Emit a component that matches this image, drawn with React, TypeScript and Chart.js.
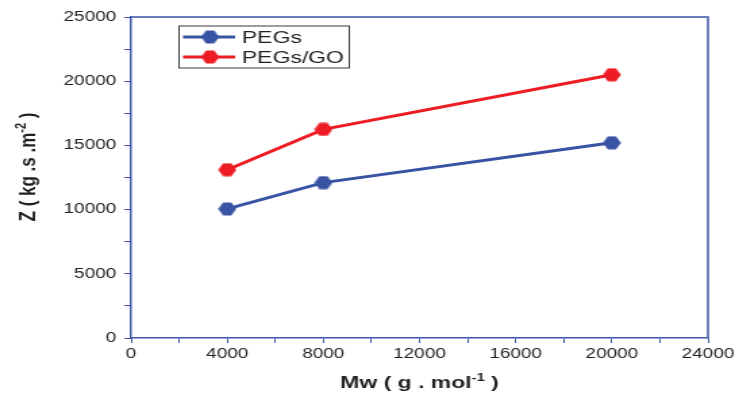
import { useEffect, useRef } from "react";
import { Chart, registerables } from "chart.js";
Chart.register(...registerables);

const molecularWeights = [4000, 8000, 20000];
const pegsZ = [10050, 12100, 15200];
const pegsGoZ = [13100, 16250, 20500];
const seriesLabels = ["PEGs", "PEGs/GO"];
const xTitleMain = "Mw ( g . mol";
const xTitleSup = "-1";
const xTitleEnd = " )";
const yTitleMain = "Z ( kg .s .m";
const yTitleSup = "-2";
const yTitleEnd = " )";

const BLUE = "#3953a4";
const RED = "#ed1c24";
const AXIS = "#3f56a8";
const TEXT = "#231f20";
const FONT = "'Liberation Sans', Arial, Helvetica, sans-serif";

const OUT_W = 735;
const IN_W = 544;
const H = 394;

function hexagon(color: string): HTMLCanvasElement {
  const c = document.createElement("canvas");
  c.width = 14;
  c.height = 14;
  const ctx = c.getContext("2d")!;
  ctx.fillStyle = color;
  ctx.beginPath();
  ctx.moveTo(0.3, 7);
  ctx.lineTo(4, 0.5);
  ctx.lineTo(10, 0.5);
  ctx.lineTo(13.7, 7);
  ctx.lineTo(10, 13.5);
  ctx.lineTo(4, 13.5);
  ctx.closePath();
  ctx.fill();
  return c;
}

function drawComposite(ctx: CanvasRenderingContext2D, cx: number, baseY: number, main: string, sup: string, end: string, size: number) {
  const mainFont = `bold ${size}px ${FONT}`;
  const supFont = `bold ${Math.round(size * 0.62)}px ${FONT}`;
  ctx.font = mainFont;
  const w1 = ctx.measureText(main).width;
  const w3 = ctx.measureText(end).width;
  ctx.font = supFont;
  const w2 = ctx.measureText(sup).width;
  let x = cx - (w1 + w2 + w3) / 2;
  ctx.textAlign = "left";
  ctx.textBaseline = "alphabetic";
  ctx.fillStyle = TEXT;
  ctx.font = mainFont;
  ctx.fillText(main, x, baseY);
  x += w1;
  ctx.font = supFont;
  ctx.fillText(sup, x, baseY - size * 0.42);
  x += w2;
  ctx.font = mainFont;
  ctx.fillText(end, x, baseY);
}

export default function App() {
  const ref = useRef<HTMLCanvasElement | null>(null);

  useEffect(() => {
    if (!ref.current) return;
    const hexBlue = hexagon(BLUE);
    const hexRed = hexagon(RED);
    const markers = [hexBlue, hexRed];
    const colors = [BLUE, RED];

    const decor = {
      id: "decor",
      afterDraw(chart: any) {
        const ctx = chart.ctx as CanvasRenderingContext2D;
        const a = chart.chartArea;
        ctx.save();
        ctx.strokeStyle = AXIS;
        ctx.lineWidth = 1.5;
        ctx.beginPath();
        ctx.moveTo(a.left, a.top);
        ctx.lineTo(a.right, a.top);
        ctx.lineTo(a.right, a.bottom);
        ctx.stroke();

        const bx = 132.5, by = 26, bw = 126, bh = 42;
        ctx.strokeStyle = "#3a3a3a";
        ctx.lineWidth = 1;
        ctx.strokeRect(bx, by, bw, bh);
        const rows = [37, 57];
        seriesLabels.forEach((lab, i) => {
          const y = rows[i];
          ctx.strokeStyle = colors[i];
          ctx.lineWidth = 3;
          ctx.beginPath();
          ctx.moveTo(135.5, y);
          ctx.lineTo(174, y);
          ctx.stroke();
          const m = markers[i];
          ctx.drawImage(m, 155.5 - m.width / 2, y - m.height / 2);
          ctx.fillStyle = TEXT;
          ctx.font = `17px ${FONT}`;
          ctx.textAlign = "left";
          ctx.textBaseline = "middle";
          ctx.fillText(lab, 179, y + 1);
        });

        drawComposite(ctx, (a.left + a.right) / 2, 388, xTitleMain, xTitleSup, xTitleEnd, 17);

        ctx.save();
        ctx.translate(26, 167);
        ctx.rotate(-Math.PI / 2);
        drawComposite(ctx, 0, 0, yTitleMain, yTitleSup, yTitleEnd, 17);
        ctx.restore();

        ctx.restore();
      },
    };

    const chart = new Chart(ref.current, {
      type: "line",
      data: {
        datasets: [
          {
            label: seriesLabels[0],
            data: molecularWeights.map((x, i) => ({ x, y: pegsZ[i] })),
            borderColor: BLUE,
            backgroundColor: BLUE,
            borderWidth: 3,
            pointStyle: hexBlue as any,
            pointRadius: 7,
          },
          {
            label: seriesLabels[1],
            data: molecularWeights.map((x, i) => ({ x, y: pegsGoZ[i] })),
            borderColor: RED,
            backgroundColor: RED,
            borderWidth: 3,
            pointStyle: hexRed as any,
            pointRadius: 7,
          },
        ],
      },
      options: {
        animation: false,
        responsive: false,
        devicePixelRatio: 1,
        layout: { padding: { top: 17, right: 20, left: 0, bottom: 0 } },
        plugins: { legend: { display: false }, tooltip: { enabled: false } },
        scales: {
          x: {
            type: "linear",
            min: 0,
            max: 24000,
            afterFit: (s: any) => {
              s.height = 56;
              s.paddingRight = 0;
              s.paddingLeft = 0;
            },
            grid: { drawOnChartArea: false, drawTicks: true, tickLength: 5, color: AXIS, tickColor: AXIS, tickWidth: 1 },
            border: { display: true, color: AXIS, width: 1.5 },
            ticks: {
              stepSize: 2000,
              autoSkip: false,
              maxRotation: 0,
              padding: 3,
              color: TEXT,
              font: { family: FONT, size: 14 },
              callback: (v: any) => (Number(v) % 4000 === 0 ? String(v) : ""),
            },
          },
          y: {
            type: "linear",
            min: 0,
            max: 25000,
            afterFit: (s: any) => {
              s.width = 97;
              s.paddingTop = 0;
              s.paddingBottom = 0;
            },
            grid: { drawOnChartArea: false, drawTicks: true, tickLength: 5, color: AXIS, tickColor: AXIS, tickWidth: 1 },
            border: { display: true, color: AXIS, width: 1.5 },
            ticks: {
              stepSize: 2500,
              autoSkip: false,
              padding: 6,
              color: TEXT,
              font: { family: FONT, size: 14 },
              callback: (v: any) => (Number(v) % 5000 === 0 ? String(v) : ""),
            },
          },
        },
      },
      plugins: [decor],
    });
    return () => chart.destroy();
  }, []);

  return (
    <div style={{ position: "fixed", left: 0, top: 0, width: OUT_W, height: H, overflow: "hidden", background: "#fff" }}>
      <div style={{ width: IN_W, height: H, transform: `scaleX(${OUT_W / IN_W})`, transformOrigin: "0 0" }}>
        <canvas ref={ref} width={IN_W} height={H} style={{ display: "block" }} />
      </div>
    </div>
  );
}
